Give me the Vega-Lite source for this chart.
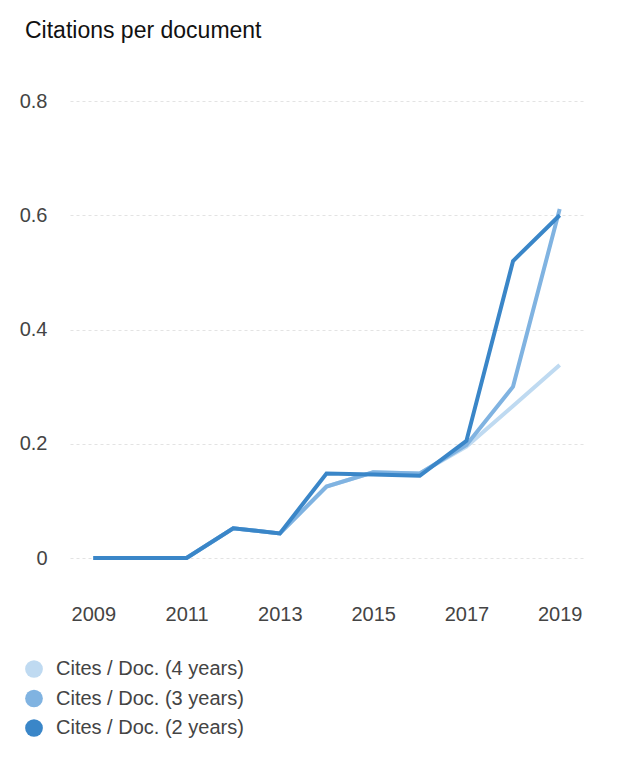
{
  "$schema": "https://vega.github.io/schema/vega-lite/v6.json",
  "autosize": "none",
  "width": 513,
  "height": 457,
  "padding": {"left": 70, "top": 101, "right": 43, "bottom": 218},
  "background": "white",
  "config": {
    "view": {"stroke": null},
    "font": "Liberation Sans"
  },
  "title": {
    "text": "Citations per document",
    "anchor": "start",
    "frame": "group",
    "fontSize": 23,
    "fontWeight": "normal",
    "color": "#111111",
    "font": "Liberation Sans",
    "dx": -45,
    "dy": -44
  },
  "data": {
    "values": [
      {"year": 2009, "series": "Cites / Doc. (4 years)", "value": 0},
      {"year": 2010, "series": "Cites / Doc. (4 years)", "value": 0},
      {"year": 2011, "series": "Cites / Doc. (4 years)", "value": 0},
      {"year": 2012, "series": "Cites / Doc. (4 years)", "value": 0.052},
      {"year": 2013, "series": "Cites / Doc. (4 years)", "value": 0.043},
      {"year": 2014, "series": "Cites / Doc. (4 years)", "value": 0.125},
      {"year": 2015, "series": "Cites / Doc. (4 years)", "value": 0.15},
      {"year": 2016, "series": "Cites / Doc. (4 years)", "value": 0.148},
      {"year": 2017, "series": "Cites / Doc. (4 years)", "value": 0.195},
      {"year": 2018, "series": "Cites / Doc. (4 years)", "value": 0.266},
      {"year": 2019, "series": "Cites / Doc. (4 years)", "value": 0.338},
      {"year": 2009, "series": "Cites / Doc. (3 years)", "value": 0},
      {"year": 2010, "series": "Cites / Doc. (3 years)", "value": 0},
      {"year": 2011, "series": "Cites / Doc. (3 years)", "value": 0},
      {"year": 2012, "series": "Cites / Doc. (3 years)", "value": 0.052},
      {"year": 2013, "series": "Cites / Doc. (3 years)", "value": 0.043},
      {"year": 2014, "series": "Cites / Doc. (3 years)", "value": 0.125},
      {"year": 2015, "series": "Cites / Doc. (3 years)", "value": 0.15},
      {"year": 2016, "series": "Cites / Doc. (3 years)", "value": 0.148},
      {"year": 2017, "series": "Cites / Doc. (3 years)", "value": 0.198},
      {"year": 2018, "series": "Cites / Doc. (3 years)", "value": 0.30},
      {"year": 2019, "series": "Cites / Doc. (3 years)", "value": 0.611},
      {"year": 2009, "series": "Cites / Doc. (2 years)", "value": 0},
      {"year": 2010, "series": "Cites / Doc. (2 years)", "value": 0},
      {"year": 2011, "series": "Cites / Doc. (2 years)", "value": 0},
      {"year": 2012, "series": "Cites / Doc. (2 years)", "value": 0.052},
      {"year": 2013, "series": "Cites / Doc. (2 years)", "value": 0.043},
      {"year": 2014, "series": "Cites / Doc. (2 years)", "value": 0.148},
      {"year": 2015, "series": "Cites / Doc. (2 years)", "value": 0.146},
      {"year": 2016, "series": "Cites / Doc. (2 years)", "value": 0.144},
      {"year": 2017, "series": "Cites / Doc. (2 years)", "value": 0.205},
      {"year": 2018, "series": "Cites / Doc. (2 years)", "value": 0.52},
      {"year": 2019, "series": "Cites / Doc. (2 years)", "value": 0.60}
    ]
  },
  "encoding": {
    "x": {
      "field": "year",
      "type": "quantitative",
      "scale": {"domain": [2008.5, 2019.5], "nice": false, "zero": false},
      "axis": {
        "title": null,
        "values": [2009, 2011, 2013, 2015, 2017, 2019],
        "format": "d",
        "grid": false,
        "domain": false,
        "ticks": false,
        "labelFontSize": 20,
        "labelColor": "#444444",
        "labelPadding": 46,
        "labelFont": "Liberation Sans"
      }
    },
    "y": {
      "field": "value",
      "type": "quantitative",
      "scale": {"domain": [0, 0.8], "nice": false},
      "axis": {
        "title": null,
        "values": [0, 0.2, 0.4, 0.6, 0.8],
        "labelExpr": "datum.value == 0 ? '0' : format(datum.value, '.1f')",
        "grid": true,
        "gridColor": "#e3e3e3",
        "gridDash": [3, 3],
        "gridWidth": 1,
        "domain": false,
        "ticks": false,
        "labelFontSize": 20,
        "labelColor": "#444444",
        "labelAlign": "right",
        "labelPadding": 23,
        "labelFont": "Liberation Sans"
      }
    },
    "color": {
      "field": "series",
      "type": "nominal",
      "scale": {
        "domain": ["Cites / Doc. (4 years)", "Cites / Doc. (3 years)", "Cites / Doc. (2 years)"],
        "range": ["#bfdaf1", "#80b3e1", "#3a86c8"]
      },
      "legend": {
        "title": null,
        "orient": "none",
        "legendX": -46,
        "legendY": 558,
        "symbolType": "circle",
        "symbolSize": 314,
        "symbolStrokeWidth": 0,
        "symbolOpacity": 1,
        "labelFontSize": 20,
        "labelColor": "#444444",
        "labelFont": "Liberation Sans",
        "labelOffset": 12,
        "labelLimit": 400,
        "rowPadding": 9.5,
        "encode": {
          "symbols": {"update": {"fill": {"scale": "color", "field": "value"}, "fillOpacity": {"value": 1}}}
        }
      }
    }
  },
  "layer": [
    {
      "transform": [{"filter": "datum.series == 'Cites / Doc. (4 years)'"}],
      "mark": {"type": "line", "strokeWidth": 4}
    },
    {
      "transform": [{"filter": "datum.series == 'Cites / Doc. (3 years)'"}],
      "mark": {"type": "line", "strokeWidth": 4}
    },
    {
      "transform": [{"filter": "datum.series == 'Cites / Doc. (2 years)'"}],
      "mark": {"type": "line", "strokeWidth": 4}
    }
  ]
}
